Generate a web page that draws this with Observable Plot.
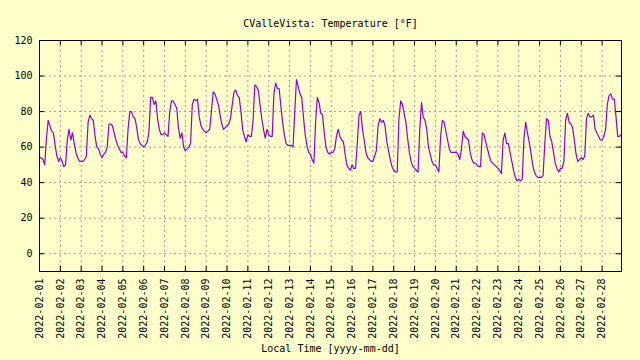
<!DOCTYPE html>
<html><head><meta charset="utf-8">
<script src="https://cdn.jsdelivr.net/npm/d3@7"></script>
<script src="https://cdn.jsdelivr.net/npm/@observablehq/plot@0.6"></script>
<style>html,body{margin:0;padding:0;background:#ffffcc;} svg{display:block}</style>
</head><body><div id="chart"></div>
<script>
const title = "CValleVista: Temperature [°F]";
const xLabel = "Local Time [yyyy-mm-dd]";
const dayNumbers = d3.range(1, 29);
const hours = [0, 2, 4, 6, 8, 10, 12, 14, 16, 18, 20, 22];
const yTicks = [0, 20, 40, 60, 80, 100, 120];
// temperature [°F], one row per day (Feb 1 .. Feb 28), values every 2 hours
const tempF = [
  [54, 54, 53, 50, 65, 75, 72, 69, 68, 61, 55, 52],
  [54, 52, 49, 50, 64, 70, 64, 68, 62, 57, 54, 52],
  [52, 52, 53, 55, 74, 78, 76, 75, 66, 60, 59, 56],
  [54, 56, 57, 60, 73, 73, 72, 68, 64, 61, 59, 57],
  [57, 55, 54, 70, 80, 80, 77, 76, 71, 64, 62, 61],
  [60, 61, 63, 68, 88, 88, 84, 86, 76, 70, 67, 67],
  [68, 67, 66, 80, 86, 86, 84, 82, 71, 65, 68, 60],
  [58, 59, 60, 62, 84, 87, 86, 87, 77, 72, 70, 69],
  [68, 69, 70, 80, 91, 90, 87, 84, 78, 73, 70, 71],
  [72, 73, 76, 84, 91, 92, 89, 88, 80, 70, 66, 63],
  [67, 66, 66, 75, 95, 94, 92, 84, 76, 70, 65, 70],
  [67, 66, 66, 90, 96, 93, 93, 83, 74, 67, 62, 61],
  [61, 61, 60, 80, 98, 94, 90, 88, 77, 67, 61, 57],
  [56, 53, 51, 74, 88, 85, 79, 78, 68, 60, 57, 56],
  [57, 57, 59, 66, 70, 66, 64, 63, 56, 50, 48, 47],
  [50, 48, 48, 62, 78, 80, 70, 64, 57, 54, 53, 52],
  [52, 55, 58, 72, 76, 74, 75, 72, 63, 58, 53, 49],
  [47, 46, 46, 76, 86, 84, 79, 74, 65, 57, 52, 49],
  [48, 47, 46, 70, 85, 77, 75, 70, 60, 56, 52, 50],
  [50, 48, 46, 66, 75, 74, 69, 64, 59, 57, 57, 57],
  [57, 56, 53, 59, 69, 66, 65, 64, 57, 53, 51, 51],
  [50, 49, 49, 68, 67, 63, 59, 55, 52, 51, 50, 49],
  [48, 47, 45, 64, 68, 62, 62, 57, 52, 47, 43, 41],
  [42, 41, 42, 65, 74, 68, 63, 57, 50, 46, 44, 43],
  [43, 43, 44, 62, 76, 75, 66, 63, 57, 51, 48, 46],
  [48, 48, 52, 75, 79, 74, 73, 71, 64, 56, 52, 53],
  [54, 53, 55, 76, 79, 77, 77, 78, 70, 68, 66, 64],
  [64, 66, 70, 84, 89, 90, 87, 87, 77, 66, 66, 67]
];

const data = [];
dayNumbers.forEach((d, i) => hours.forEach((h, j) => {
  data.push({t: new Date(Date.UTC(2022, 1, d, h)), v: tempF[i][j]});
}));
const xTicks = dayNumbers.map(d => new Date(Date.UTC(2022, 1, d)));
const xDomain = [new Date(Date.UTC(2022, 1, 1, 0)), new Date(Date.UTC(2022, 1, 28, 22, 20))];

const gridStyle = {stroke: "#a0a0a0", strokeOpacity: 1, strokeWidth: 1, strokeDasharray: "2,3"};

const chart = Plot.plot({
  width: 640,
  height: 360,
  marginTop: 40,
  marginLeft: 39,
  marginRight: 19,
  marginBottom: 89,
  style: {background: "#ffffcc", fontFamily: "'DejaVu Sans Mono', monospace", fontSize: "10px", color: "black"},
  x: {type: "utc", domain: xDomain},
  y: {domain: [-10, 120]},
  marks: [
    Plot.gridY(yTicks.filter(v => v < 120), gridStyle),
    Plot.gridX(xTicks.slice(1), gridStyle),
    Plot.ruleY(yTicks, {stroke: "black", insetRight: 577}),
    Plot.ruleY(yTicks, {stroke: "black", insetLeft: 577}),
    Plot.ruleX(xTicks, {stroke: "black", insetTop: 226}),
    Plot.ruleX(xTicks, {stroke: "black", insetBottom: 226}),
    Plot.axisY(yTicks, {tickSize: 0, tickPadding: 7, label: null, fontSize: 10}),
    Plot.axisX(xTicks, {tickSize: 0, tickPadding: 7, tickRotate: -90, tickFormat: d3.utcFormat("%Y-%m-%d"), label: null, fontSize: 10}),
    Plot.line(data, {x: "t", y: "v", stroke: "#9400d3", strokeWidth: 1.2}),
    Plot.frame({stroke: "black", strokeWidth: 1}),
    Plot.text([title], {frameAnchor: "top", dy: -21, fontSize: 10}),
    Plot.text([xLabel], {frameAnchor: "bottom", dy: 80, fontSize: 10})
  ]
});
document.getElementById("chart").appendChild(chart);
</script>
</body></html>
